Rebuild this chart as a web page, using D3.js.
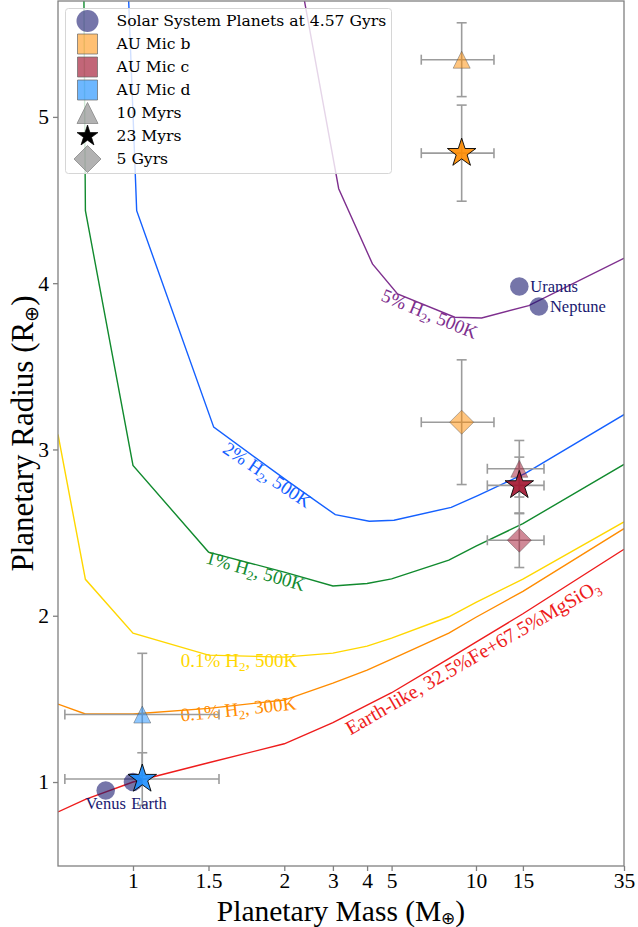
<!DOCTYPE html>
<html>
<head>
<meta charset="utf-8">
<script src="https://cdn.jsdelivr.net/npm/d3@7"></script>
<style>
  body { margin: 0; background: #fff; }
  svg { display: block; }
  .tick text { font-family: 'Liberation Serif', serif; font-size: 21.5px; fill: #000; }
</style>
</head>
<body>
<div id="chart"></div>
<script>
/* global d3 */
var W = 638;
var H = 927;
var margin = { left: 58, right: 14, top: 1, bottom: 61 };

// axis (the mass axis in the original is a stretched, piecewise log axis)
var xTickVals = [1, 1.5, 2, 3, 4, 5, 10, 15, 35];
var xTickLabels = ['1', '1.5', '2', '3', '4', '5', '10', '15', '35'];
var xBreaks = [0.57, 1, 1.5, 2, 3, 4, 5, 10, 15, 35];
var xBreakFrac = [0, 0.1325, 0.2659, 0.3998, 0.4857, 0.5461, 0.5894, 0.7385, 0.8214, 1];
var yTicks = [1, 2, 3, 4, 5];
var yDomain = [0.495, 5.697];

// mass-radius model curves
var coreMass = [0.57, 0.7, 1, 1.5, 2, 3, 4, 5, 8, 10, 15, 35];
var mass2pct = [0.714, 1.02, 1.53, 2.04, 3.06, 4.08, 5.1, 8.16, 10.2, 15.3, 35.7];
var mass5pct = [2.1, 3.15, 4.2, 5.25, 8.4, 10.5, 15.75, 36.75];

var rEarthLike = [0.820, 0.896, 1.0, 1.116, 1.230, 1.357, 1.463, 1.537, 1.742, 1.841, 2.012, 2.40];
var rH01_300 = [1.469, 1.409, 1.409, 1.443, 1.493, 1.595, 1.673, 1.739, 1.895, 1.991, 2.147, 2.524];
var rH01_500 = [3.09, 2.219, 1.895, 1.763, 1.751, 1.775, 1.817, 1.865, 1.994, 2.081, 2.22, 2.564];
var rH1_500 = [28, 4.436, 2.904, 2.383, 2.262, 2.179, 2.194, 2.222, 2.334, 2.418, 2.554, 2.910];
var rH2_500 = [12.1, 4.436, 3.134, 2.814, 2.608, 2.568, 2.574, 2.652, 2.724, 2.856, 3.218];
var rH5_500 = [6.17, 4.568, 4.116, 3.935, 3.795, 3.791, 3.865, 4.167];

// solar system planets
var solarNames = ['Venus', 'Earth', 'Uranus', 'Neptune'];
var solarMass = [0.815, 1.0, 14.54, 17.15];
var solarRadius = [0.949, 1.0, 3.98, 3.86];

// AU Mic planets
var auNames = ['AU Mic b', 'AU Mic c', 'AU Mic d'];
var auMass = [8.89, 14.54, 1.051];
var auMassLo = [6.38, 11.03, 0.60];
var auMassHi = [11.68, 17.9, 1.561];
var ageLabels = ['10 Myrs', '23 Myrs', '5 Gyrs'];
var r10Myr = [5.344, 2.884, 1.406];
var r10MyrErr = [0.222, 0.17, 0.368];
var r23Myr = [4.782, 2.784, 1.018];
var r23MyrErr = [0.289, 0.17, 0.158];
var r5Gyr = [3.164, 2.454, null];
var r5GyrErr = [0.375, 0.164, null];

var auColors = ['#ff8c00', '#a2142f', '#1e90ff'];
var solarColor = '#191970';

var svg = d3.select('#chart').append('svg')
  .attr('width', W)
  .attr('height', H);

var plotW = W - margin.left - margin.right;
var plotH = H - margin.top - margin.bottom;
var bottom = margin.top + plotH;

var x = d3.scaleLinear()
  .domain(xBreaks.map(Math.log10))
  .range(xBreakFrac.map(function (f) { return margin.left + f * plotW; }));
function px (mass) { return x(Math.log10(mass)); }

var y = d3.scaleLinear()
  .domain(yDomain)
  .range([bottom, margin.top]);

svg.append('clipPath').attr('id', 'plot-clip')
  .append('rect')
  .attr('x', margin.left).attr('y', margin.top)
  .attr('width', plotW).attr('height', plotH);

var plot = svg.append('g').attr('clip-path', 'url(#plot-clip)');

// curves
var curves = [
  { mass: coreMass, radius: rEarthLike, color: '#ee1c1c' },
  { mass: coreMass, radius: rH01_300, color: '#ff8c00' },
  { mass: coreMass, radius: rH01_500, color: '#ffd700' },
  { mass: coreMass, radius: rH1_500, color: '#118a2e' },
  { mass: mass2pct, radius: rH2_500, color: '#1460ff' },
  { mass: mass5pct, radius: rH5_500, color: '#7e2f8e' }
];

var line = d3.line()
  .x(function (d) { return px(d[0]); })
  .y(function (d) { return y(d[1]); });

plot.selectAll('path.curve')
  .data(curves)
  .enter()
  .append('path')
  .attr('class', 'curve')
  .attr('d', function (c) { return line(d3.zip(c.mass, c.radius)); })
  .attr('fill', 'none')
  .attr('stroke', function (c) { return c.color; })
  .attr('stroke-width', 1.4);

// inline curve labels: [mass, radius, angle]
var curveLabels = [
  { parts: [['Earth-like, 32.5%Fe+67.5%MgSiO', 0], ['3', 1]], at: [10, 1.716, -30], color: '#ee1c1c', size: 20 },
  { parts: [['0.1% H', 0], ['2', 1], [', 300K', 0]], at: [1.684, 1.400, -6], color: '#ff8c00', size: 19 },
  { parts: [['0.1% H', 0], ['2', 1], [', 500K', 0]], at: [1.684, 1.692, 0], color: '#ffd700', size: 19 },
  { parts: [['1% H', 0], ['2', 1], [', 500K', 0]], at: [1.782, 2.232, 16], color: '#118a2e', size: 19 },
  { parts: [['2% H', 0], ['2', 1], [', 500K', 0]], at: [1.85, 2.815, 34], color: '#1460ff', size: 19 },
  { parts: [['5% H', 0], ['2', 1], [', 500K', 0]], at: [6.69, 3.78, 22.5], color: '#7e2f8e', size: 19 }
];

var lbl = plot.selectAll('text.clabel')
  .data(curveLabels)
  .enter()
  .append('text')
  .attr('class', 'clabel')
  .attr('transform', function (d) {
    return 'translate(' + px(d.at[0]) + ',' + y(d.at[1]) + ') rotate(' + d.at[2] + ')';
  })
  .attr('text-anchor', 'middle')
  .attr('dy', '0.35em')
  .attr('fill', function (d) { return d.color; })
  .style('font-family', 'Liberation Serif, serif')
  .style('font-size', function (d) { return d.size + 'px'; });

lbl.each(function (d) {
  var t = d3.select(this);
  var shift = 0;
  d.parts.forEach(function (p) {
    var want = p[1] ? 4 : 0;
    t.append('tspan')
      .attr('dy', want - shift)
      .style('font-size', p[1] ? '13px' : null)
      .text(p[0]);
    shift = want;
  });
});

// error bars
var errColor = '#9c9c9c';
var cap = 5;
var errG = plot.append('g')
  .attr('stroke', errColor)
  .attr('stroke-width', 1.6)
  .attr('fill', 'none');

var ageSets = [
  { r: r10Myr, e: r10MyrErr },
  { r: r23Myr, e: r23MyrErr },
  { r: r5Gyr, e: r5GyrErr }
];

ageSets.forEach(function (set) {
  auNames.forEach(function (n, i) {
    if (set.r[i] === null) return;
    var cx = px(auMass[i]);
    var cy = y(set.r[i]);
    var x0 = px(auMassLo[i]);
    var x1 = px(auMassHi[i]);
    var y0 = y(set.r[i] - set.e[i]);
    var y1 = y(set.r[i] + set.e[i]);
    errG.append('line').attr('x1', x0).attr('x2', x1).attr('y1', cy).attr('y2', cy);
    errG.append('line').attr('x1', cx).attr('x2', cx).attr('y1', y0).attr('y2', y1);
    [x0, x1].forEach(function (xx) {
      errG.append('line').attr('x1', xx).attr('x2', xx).attr('y1', cy - cap).attr('y2', cy + cap);
    });
    [y0, y1].forEach(function (yy) {
      errG.append('line').attr('x1', cx - cap).attr('x2', cx + cap).attr('y1', yy).attr('y2', yy);
    });
  });
});

// marker shapes in matplotlib style
var mplTriangle = {
  draw: function (ctx, size) {
    var s = Math.sqrt(size) / 2;
    ctx.moveTo(0, -s);
    ctx.lineTo(s, s);
    ctx.lineTo(-s, s);
    ctx.closePath();
  }
};
var mplDiamond = {
  draw: function (ctx, size) {
    var s = Math.sqrt(size) / 2;
    ctx.moveTo(0, -s);
    ctx.lineTo(s, 0);
    ctx.lineTo(0, s);
    ctx.lineTo(-s, 0);
    ctx.closePath();
  }
};
function starSize (r) { return r * r / 0.8908130915292852; }

var markerG = plot.append('g');

// solar system planets
markerG.selectAll('circle.solar')
  .data(solarNames)
  .enter()
  .append('circle')
  .attr('class', 'solar')
  .attr('cx', function (d, i) { return px(solarMass[i]); })
  .attr('cy', function (d, i) { return y(solarRadius[i]); })
  .attr('r', 9.3)
  .attr('fill', solarColor)
  .attr('fill-opacity', 0.6);

// AU Mic: 10 Myr triangles, 5 Gyr diamonds, 23 Myr stars
function drawAge (set, type, size, fillOp, stroke, strokeOp) {
  markerG.selectAll(null)
    .data(auNames.filter(function (d, i) { return set.r[i] !== null; }))
    .enter()
    .append('path')
    .attr('transform', function (d) {
      var i = auNames.indexOf(d);
      return 'translate(' + px(auMass[i]) + ',' + y(set.r[i]) + ')';
    })
    .attr('d', d3.symbol().type(type).size(size))
    .attr('fill', function (d) { return auColors[auNames.indexOf(d)]; })
    .attr('fill-opacity', fillOp)
    .attr('stroke', stroke)
    .attr('stroke-opacity', strokeOp)
    .attr('stroke-width', 1);
}
drawAge(ageSets[0], mplTriangle, 17 * 17, 0.5, '#555', 0.45);
drawAge(ageSets[2], mplDiamond, 24 * 24, 0.5, '#555', 0.45);
drawAge(ageSets[1], d3.symbolStar, starSize(15), 0.9, '#000', 0.9);

// planet name labels: [dx, dy, anchor]
var solarLabelPos = {
  Venus: [0, 13, 'middle'],
  Earth: [16, 21, 'middle'],
  Uranus: [11, 0, 'start'],
  Neptune: [11, 0, 'start']
};
plot.selectAll('text.pname')
  .data(solarNames)
  .enter()
  .append('text')
  .attr('class', 'pname')
  .attr('x', function (d, i) { return px(solarMass[i]) + solarLabelPos[d][0]; })
  .attr('y', function (d, i) { return y(solarRadius[i]) + solarLabelPos[d][1]; })
  .attr('dy', '0.35em')
  .attr('text-anchor', function (d) { return solarLabelPos[d][2]; })
  .attr('fill', solarColor)
  .style('font-family', 'Liberation Serif, serif')
  .style('font-size', '16.5px')
  .text(function (d) { return d; });

// frame + axes
svg.append('rect')
  .attr('x', margin.left).attr('y', margin.top)
  .attr('width', plotW).attr('height', plotH)
  .attr('fill', 'none')
  .attr('stroke', '#808080')
  .attr('stroke-width', 1.3);

var xAxis = svg.append('g')
  .attr('transform', 'translate(0,' + bottom + ')')
  .call(d3.axisBottom(x)
    .tickValues(xTickVals.map(Math.log10))
    .tickFormat(function (d, i) { return xTickLabels[i]; })
    .tickSize(5)
    .tickPadding(2));
xAxis.select('.domain').remove();
xAxis.selectAll('.tick line').attr('stroke', '#808080').attr('stroke-width', 1.3);

var yAxis = svg.append('g')
  .attr('transform', 'translate(' + margin.left + ',0)')
  .call(d3.axisLeft(y)
    .tickValues(yTicks)
    .tickFormat(d3.format('d'))
    .tickSize(5)
    .tickPadding(4));
yAxis.select('.domain').remove();
yAxis.selectAll('.tick line').attr('stroke', '#808080').attr('stroke-width', 1.3);

// axis titles
var xt = svg.append('text')
  .attr('x', margin.left + plotW / 2)
  .attr('y', 920.5)
  .attr('text-anchor', 'middle')
  .style('font-family', 'Liberation Serif, serif')
  .style('font-size', '29.5px');
xt.append('tspan').text('Planetary Mass (M');
xt.append('tspan').attr('dy', 3).style('font-size', '17px').text('\u2295');
xt.append('tspan').attr('dy', -3).text(')');

var yt = svg.append('text')
  .attr('transform', 'translate(33,' + (margin.top + plotH / 2) + ') rotate(-90)')
  .attr('text-anchor', 'middle')
  .style('font-family', 'Liberation Serif, serif')
  .style('font-size', '31px');
yt.append('tspan').text('Planetary Radius (R');
yt.append('tspan').attr('dy', 5).style('font-size', '19px').text('\u2295');
yt.append('tspan').attr('dy', -5).text(')');

// legend
var leg = svg.append('g');
leg.append('rect')
  .attr('x', 65.5).attr('y', 8.5)
  .attr('width', 326).attr('height', 165)
  .attr('rx', 3)
  .attr('fill', '#fff')
  .attr('fill-opacity', 0.8)
  .attr('stroke', '#d6d6d6');

var legendItems = [
  { label: 'Solar System Planets at 4.57 Gyrs', type: d3.symbolCircle, size: Math.PI * 11 * 11, fill: solarColor, op: 0.6, stroke: 'none' },
  { label: auNames[0], type: d3.symbolSquare, size: 20 * 20, fill: auColors[0], op: 0.55, stroke: '#666' },
  { label: auNames[1], type: d3.symbolSquare, size: 20 * 20, fill: auColors[1], op: 0.65, stroke: '#666' },
  { label: auNames[2], type: d3.symbolSquare, size: 20 * 20, fill: auColors[2], op: 0.65, stroke: '#666' },
  { label: ageLabels[0], type: mplTriangle, size: 21 * 21, fill: '#7f7f7f', op: 0.6, stroke: '#7f7f7f' },
  { label: ageLabels[1], type: d3.symbolStar, size: starSize(11), fill: '#000', op: 1, stroke: '#000' },
  { label: ageLabels[2], type: mplDiamond, size: 27 * 27, fill: '#7f7f7f', op: 0.6, stroke: '#7f7f7f' }
];

var row = leg.selectAll('g.row')
  .data(legendItems)
  .enter()
  .append('g')
  .attr('class', 'row')
  .attr('transform', function (d, i) { return 'translate(87.5,' + (21 + i * 23) + ')'; });

row.append('path')
  .attr('d', function (d) { return d3.symbol().type(d.type).size(d.size)(); })
  .attr('fill', function (d) { return d.fill; })
  .attr('fill-opacity', function (d) { return d.op; })
  .attr('stroke', function (d) { return d.stroke; })
  .attr('stroke-opacity', 0.7);

row.append('text')
  .attr('x', 29)
  .attr('dy', '0.35em')
  .style('font-family', 'DejaVu Serif, serif')
  .style('font-size', '15.6px')
  .text(function (d) { return d.label; });
</script>
</body>
</html>
